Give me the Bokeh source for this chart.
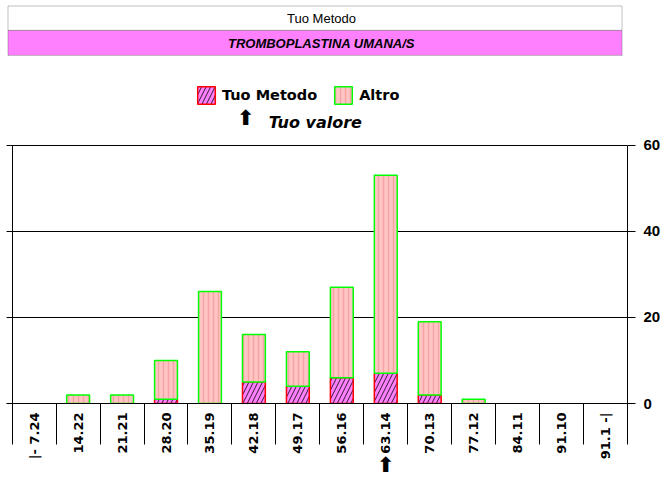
import math
from bokeh.plotting import figure
from bokeh.models import (Range1d, FixedTicker, LinearAxis, Legend, LegendItem, Label,
                          BoxAnnotation, ColumnDataSource, Grid)
from bokeh.embed import file_html
from bokeh.resources import INLINE

# ---------------- data ----------------
header_method = "Tuo Metodo"
header_reagent = "TROMBOPLASTINA UMANA/S"
categories = ["|- 7.24", "14.22", "21.21", "28.20", "35.19", "42.18", "49.17",
              "56.16", "63.14", "70.13", "77.12", "84.11", "91.10", "91.1 -|"]
tuo_metodo = [0, 0, 0, 1, 0, 5, 4, 6, 7, 2, 0, 0, 0, 0]
altro = [0, 2, 2, 9, 26, 11, 8, 21, 46, 17, 1, 0, 0, 0]
y_ticks = [0, 20, 40, 60]
series_names = ["Tuo Metodo", "Altro"]
tuo_valore_label = "Tuo valore"
tuo_valore_category = "63.14"
arrow_char = "\u2B06"

n = len(categories)
centers = [i + 0.5 for i in range(n)]
bounds = [float(i) for i in range(n + 1)]

src_m = ColumnDataSource(dict(
    x=[c for c, v in zip(centers, tuo_metodo) if v > 0],
    top=[v for v in tuo_metodo if v > 0]))
src_a = ColumnDataSource(dict(
    x=[c for c, m, a in zip(centers, tuo_metodo, altro) if a > 0],
    bottom=[m for m, a in zip(tuo_metodo, altro) if a > 0],
    top=[m + a for m, a in zip(tuo_metodo, altro) if a > 0]))

# ---------------- layout geometry (pixels) ----------------
W, H = 663, 479
BORDER_L, BORDER_R, BORDER_B = 6, 34, 75
FRAME_W = W - BORDER_L - BORDER_R          # 623
FRAME_H = H - BORDER_B                      # 404
AXIS_X = 5.7                                # left value axis, px from frame left
PLOT_TOP = 145                              # px row of the top value inside the frame
cat_px = (FRAME_W - AXIS_X) / n
x_start = -AXIS_X / cat_px
y_end = y_ticks[-1] * FRAME_H / (FRAME_H - PLOT_TOP)

p = figure(width=W, height=H, x_range=Range1d(x_start, n), y_range=Range1d(0, y_end),
           output_backend="svg", toolbar_location=None,
           x_axis_location=None, y_axis_location=None,
           min_border_top=0, min_border_bottom=BORDER_B,
           min_border_left=BORDER_L, min_border_right=BORDER_R)
p.outline_line_color = None
for g in p.grid:
    g.visible = False
# pixel coordinate system of the frame (x from left, y from top) for decorations
p.extra_x_ranges = {"px": Range1d(0, FRAME_W)}
p.extra_y_ranges = {"px": Range1d(FRAME_H, 0)}

p.add_layout(Grid(dimension=1, ticker=FixedTicker(ticks=y_ticks),
                  grid_line_color="black", grid_line_width=1))

left_ax = LinearAxis(ticker=FixedTicker(ticks=y_ticks), bounds=(y_ticks[0], y_ticks[-1]),
                     fixed_location=0,
                     major_label_overrides={t: "" for t in y_ticks},
                     major_tick_out=6, major_tick_in=0, major_label_standoff=0,
                     minor_tick_out=0, minor_tick_in=0,
                     axis_line_color="black", major_tick_line_color="black")
p.add_layout(left_ax, "left")

right_ax = LinearAxis(ticker=FixedTicker(ticks=y_ticks), bounds=(y_ticks[0], y_ticks[-1]),
                      major_tick_out=8, major_tick_in=0, major_label_standoff=8,
                      minor_tick_out=0, minor_tick_in=0,
                      axis_line_color="black", major_tick_line_color="black",
                      major_label_text_font="Liberation Sans",
                      major_label_text_font_style="bold",
                      major_label_text_font_size="15px",
                      major_label_text_color="black")
p.add_layout(right_ax, "right")

bottom_ax = LinearAxis(ticker=FixedTicker(ticks=centers, minor_ticks=bounds),
                       major_label_overrides={c: lab for c, lab in zip(centers, categories)},
                       major_tick_in=0, major_tick_out=0,
                       minor_tick_in=0, minor_tick_out=41,
                       minor_tick_line_color="black",
                       axis_line_color="black",
                       major_label_orientation=math.pi / 2,
                       major_label_standoff=-32,
                       major_label_text_font="DejaVu Sans",
                       major_label_text_font_style="bold",
                       major_label_text_font_size="13px",
                       major_label_text_color="black")
p.add_layout(bottom_ax, "below")

tv_x = centers[categories.index(tuo_valore_category)]
arrow_ax = LinearAxis(ticker=FixedTicker(ticks=[tv_x]),
                      major_label_overrides={tv_x: arrow_char},
                      major_tick_in=0, major_tick_out=0,
                      minor_tick_in=0, minor_tick_out=0,
                      axis_line_color=None, major_tick_line_color=None,
                      major_label_standoff=-10,
                      major_label_text_font="DejaVu Sans",
                      major_label_text_font_style="bold",
                      major_label_text_font_size="21px",
                      major_label_text_color="black")
p.add_layout(arrow_ax, "below")

r_m = p.vbar(x="x", top="top", bottom=0, width=0.52, source=src_m,
             fill_color="#FF80FF", line_color="#FF0000", line_width=1.5,
             hatch_pattern="/", hatch_color="black", hatch_scale=9,
             hatch_weight=1, hatch_alpha=0.8)
r_a = p.vbar(x="x", top="top", bottom="bottom", width=0.52, source=src_a,
             fill_color="#FFC4C4", line_color="#00FF00", line_width=1.5,
             hatch_pattern="|", hatch_color="#F5A3A3", hatch_scale=5,
             hatch_weight=1.5)

# header boxes
p.add_layout(BoxAnnotation(left=1.5, right=617.5, top=5.5, bottom=30,
                           x_range_name="px", y_range_name="px",
                           fill_color="white", fill_alpha=1,
                           line_color="#333333", line_width=1))
p.add_layout(BoxAnnotation(left=1.5, right=617.5, top=30, bottom=55,
                           x_range_name="px", y_range_name="px",
                           fill_color="#FF80FF", fill_alpha=1,
                           line_color="#333333", line_width=1))
p.add_layout(Label(x=316, y=18, x_range_name="px", y_range_name="px",
                   text=header_method, text_align="center",
                   text_baseline="middle", text_font="Liberation Sans",
                   text_font_size="13px", text_color="black"))
p.add_layout(Label(x=316, y=43, x_range_name="px", y_range_name="px",
                   text=header_reagent, text_align="center",
                   text_baseline="middle", text_font="Liberation Sans",
                   text_font_style="bold italic", text_font_size="13px",
                   text_color="black"))

legend = Legend(items=[LegendItem(label=series_names[0], renderers=[r_m]),
                       LegendItem(label=series_names[1], renderers=[r_a])],
                orientation="horizontal", location=(189, 297),
                glyph_width=22, glyph_height=22, label_standoff=5, spacing=15,
                padding=0, margin=0, border_line_color=None,
                background_fill_alpha=0,
                label_text_font="DejaVu Sans", label_text_font_style="bold",
                label_text_font_size="14.5px", label_text_color="black")
p.add_layout(legend, "center")

p.add_layout(Label(x=240, y=118, x_range_name="px", y_range_name="px", text=arrow_char,
                   text_font="DejaVu Sans", text_font_style="bold",
                   text_font_size="21px", text_color="black",
                   text_align="center", text_baseline="middle"))
p.add_layout(Label(x=263, y=122.5, x_range_name="px", y_range_name="px",
                   text=tuo_valore_label,
                   text_font="DejaVu Sans", text_font_style="bold italic",
                   text_font_size="16px", text_color="black",
                   text_align="left", text_baseline="middle"))

open("out.html", "w").write(file_html(p, INLINE))
